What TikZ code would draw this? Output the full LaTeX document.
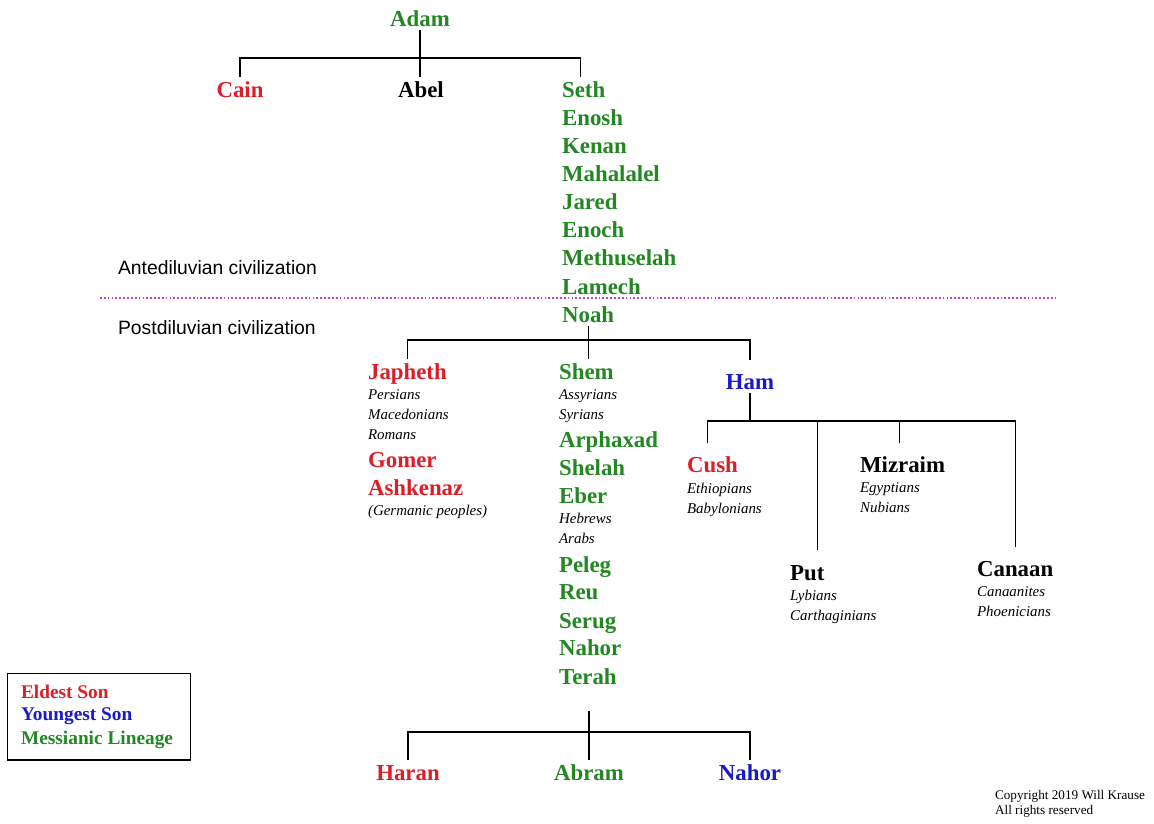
\documentclass[tikz,border=0pt]{standalone}
\usepackage{fontspec}
\setmainfont{Liberation Serif}
\newfontfamily\arialfont{Liberation Sans}
\definecolor{eldest}{RGB}{220,30,40}
\definecolor{youngest}{RGB}{25,25,200}
\definecolor{messiah}{RGB}{35,135,35}
\definecolor{flood}{RGB}{190,70,190}
\tikzset{
  person/.style={anchor=west, inner sep=1pt, text height=10.5pt, text depth=0.6pt,
    font=\fontsize{13}{15}\selectfont\bfseries},
  people/.style={anchor=west, inner sep=1pt, text height=7pt, text depth=0.8pt,
    font=\fontsize{8.5}{10}\selectfont\itshape},
  era/.style={anchor=west, inner sep=1pt, font=\arialfont\fontsize{11}{13}\selectfont},
  keyentry/.style={anchor=west, inner sep=1pt, font=\fontsize{11}{13}\selectfont\bfseries},
  branch/.style={black, line width=0.6pt}
}
\begin{document}
\begin{tikzpicture}[x=0.02cm, y=-0.02cm]
  \useasboundingbox (0,0) rectangle (1154,823);

  % Adam and his sons
  \node[person, messiah, anchor=center] (Adam) at (420,18) {Adam};
  \node[person, eldest, anchor=center] (Cain) at (240,89) {Cain};
  \node[person, anchor=center] (Abel) at (421,89) {Abel};
  \foreach \n/\y in {Seth/89, Enosh/117, Kenan/145, Mahalalel/173, Jared/201,
                     Enoch/229, Methuselah/257, Lamech/286, Noah/314}
    \node[person, messiah] (\n) at (560,\y) {\n};

  \coordinate (adambar) at (420,58);
  \draw[branch] (Adam.south) -- (Adam.south |- Abel.north);
  \draw[branch] (Cain.north) |- (adambar) -| ([xshift=-2pt]Seth.north);

  % the flood
  \node[era] (ante) at (116,268) {Antediluvian civilization};
  \node[era] (post) at (116,328) {Postdiluvian civilization};
  \draw[flood, line width=1.2pt, dash pattern=on 1pt off 1.2pt] (100,298) -- (1058,298);

  % Japheth
  \node[person, eldest] (Japheth) at (366,371) {Japheth};
  \node[people] (persians) at (366,394) {Persians};
  \node[people] (macedonians) at (366,414) {Macedonians};
  \node[people] (romans) at (366,434) {Romans};
  \node[person, eldest] (Gomer) at (366,459) {Gomer};
  \node[person, eldest] (Ashkenaz) at (366,487) {Ashkenaz};
  \node[people] (germanic) at (366,510) {(Germanic peoples)};

  % Shem
  \node[person, messiah] (Shem) at (557,371) {Shem};
  \node[people] (assyrians) at (557,394) {Assyrians};
  \node[people] (syrians) at (557,414) {Syrians};
  \node[person, messiah] (Arphaxad) at (557,439) {Arphaxad};
  \node[person, messiah] (Shelah) at (557,467) {Shelah};
  \node[person, messiah] (Eber) at (557,495) {Eber};
  \node[people] (hebrews) at (557,518) {Hebrews};
  \node[people] (arabs) at (557,538) {Arabs};
  \foreach \n/\y in {Peleg/564, Reu/591, Serug/620, Nahor/647, Terah/676}
    \node[person, messiah] (\n) at (557,\y) {\n};

  % Ham
  \node[person, youngest, anchor=center] (Ham) at (750,381) {Ham};
  \node[person, eldest] (Cush) at (685,464) {Cush};
  \node[people] (ethiopians) at (685,488) {Ethiopians};
  \node[people] (babylonians) at (685,508) {Babylonians};
  \node[person] (Mizraim) at (858,464) {Mizraim};
  \node[people] (egyptians) at (858,487) {Egyptians};
  \node[people] (nubians) at (858,507) {Nubians};
  \node[person] (Put) at (788,572) {Put};
  \node[people] (lybians) at (788,595) {Lybians};
  \node[people] (carthaginians) at (788,615) {Carthaginians};
  \node[person] (Canaan) at (975,568) {Canaan};
  \node[people] (canaanites) at (975,591) {Canaanites};
  \node[people] (phoenicians) at (975,611) {Phoenicians};

  \coordinate (noahbar) at (589,340);
  \draw[branch] (Noah.south) -- (Noah.south |- Shem.north);
  \draw[branch] (Japheth.north) |- (noahbar) -| ([yshift=5pt]Ham.north);

  \coordinate (hambar) at (750,421);
  \draw[branch] (Ham.south) -- (hambar);
  \draw[branch] ([xshift=-3pt,yshift=5pt]Cush.north) |- (hambar)
    -| ([yshift=5pt]Canaan.north);
  \draw[branch] ([xshift=-2pt,yshift=5pt]Mizraim.north) -- ([xshift=-2pt]Mizraim.north |- hambar);
  \draw[branch] ([xshift=6pt,yshift=6pt]Put.north) -- ([xshift=6pt]Put.north |- hambar);

  % sons of Terah
  \node[person, eldest, anchor=center] (Haran) at (408,772) {Haran};
  \node[person, messiah, anchor=center] (Abram) at (589,772) {Abram};
  \node[person, youngest, anchor=center] (Nahor2) at (750,772) {Nahor};
  \coordinate (terahbar) at (589,732);
  \draw[branch] ([yshift=-13pt]Terah.south -| terahbar) -- (Abram.north);
  \draw[branch] (Haran.north) |- (terahbar) -| (Nahor2.north);

  % key
  \node[draw, line width=0.8pt, anchor=north west, minimum width=104pt,
    minimum height=49pt, inner sep=0pt] (key) at (7,673) {};
  \node[keyentry, eldest] (keyeldest) at (19,692) {Eldest Son};
  \node[keyentry, youngest] (keyyoungest) at (19,716) {Youngest Son};
  \node[keyentry, messiah] (keymessiah) at (19,740) {Messianic Lineage};

  \node[anchor=west, inner sep=1pt, align=left, font=\fontsize{7.5}{8.5}\selectfont]
    (copyright) at (993,804) {Copyright 2019 Will Krause\\All rights reserved};
\end{tikzpicture}
\end{document}
